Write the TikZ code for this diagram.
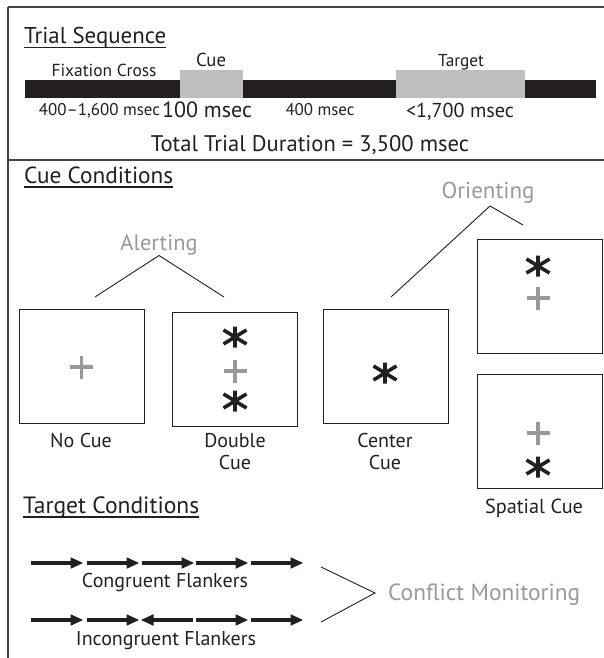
\documentclass[tikz,border=0pt]{standalone}
\usepackage{graphicx}
\usepackage{fontspec}
\setmainfont{PT Sans}
\definecolor{barblack}{HTML}{231F20}
\definecolor{blockgray}{HTML}{BEBEBE}
\definecolor{softgray}{HTML}{999999}
\definecolor{framegray}{HTML}{444444}
\newcommand{\fw}[2]{\resizebox{#1pt}{!}{#2}}
\tikzset{
  txt/.style={inner sep=0pt, anchor=base, text=barblack},
  graytxt/.style={inner sep=0pt, anchor=base, text=softgray},
  caption/.style={inner sep=0pt, anchor=base, text=barblack, font=\fontsize{20}{22}\selectfont},
  uline/.style={draw=barblack, line width=1.2pt},
  frameline/.style={draw=framegray, line width=1.4pt},
  cuebox/.style={draw=barblack, line width=1pt, minimum width=125pt, minimum height=114pt, inner sep=0pt},
  link/.style={draw=barblack, line width=0.9pt},
  astsym/.pic={\draw[barblack, line width=3.6pt] (0,-10.5) -- (0,10.5) (-11.5,-7) -- (11.5,7) (-11.5,7) -- (11.5,-7);},
  plussym/.pic={\draw[softgray, line width=3.5pt] (-11.5,0) -- (11.5,0) (0,-11.5) -- (0,11.5);},
  flank/.pic={\fill[barblack] (0,-2.3) rectangle (40,2.3); \fill[barblack] (39.5,-5.8) -- (52,0) -- (39.5,5.8) -- cycle;}
}
\begin{document}
\begin{tikzpicture}[x=1pt,y=-1pt]
\useasboundingbox (0,0) rectangle (604,658);
\fill[white] (0,0) rectangle (604,658);
% frame
\draw[frameline] (8,7) -- (604,7);
\draw[frameline] (8,7) -- (8,658);
\draw[frameline] (8,160) -- (604,160);

% ---- Trial sequence ----
\node[txt, anchor=base west] (trialseq) at (24,43.3) {\fw{142}{Trial Sequence}};
\draw[uline] ([yshift=-4pt]trialseq.base west) -- ([yshift=-4pt]trialseq.base east);

\fill[barblack] (25,80.5) rectangle (596,98.5);
\fill[blockgray] (180,70.5) rectangle (242.5,98.5);
\fill[blockgray] (396,70.5) rectangle (525,98.5);

\node[txt] (fixlbl) at (104,76.7) {\fw{105}{Fixation Cross}};
\node[txt] (cuelbl) at (211,67) {\fw{30}{Cue}};
\node[txt] (targetlbl) at (461,67) {\fw{46}{Target}};

\node[txt] (dur1) at (99.5,115.5) {\fw{121}{400–1,600 msec}};
\node[txt] (dur2) at (207,117.5) {\fw{90}{100 msec}};
\node[txt] (dur3) at (320,115.5) {\fw{69}{400 msec}};
\node[txt] (dur4) at (460,117.5) {\fw{108}{<1,700 msec}};
\node[txt] (total) at (310,151.7) {\fw{318}{Total Trial Duration = 3,500 msec}};

% ---- Cue conditions ----
\node[txt, anchor=base west] (cuecond) at (24,183) {\fw{149}{Cue Conditions}};
\draw[uline] ([yshift=-4pt]cuecond.base west) -- ([yshift=-4pt]cuecond.base east);

\node[graytxt] (alerting) at (159,250) {\fw{77}{Alerting}};
\node[graytxt] (orienting) at (488,198) {\fw{93}{Orienting}};

\coordinate (alpeak) at (159,255.5);
\coordinate (alleft) at (95,297);
\coordinate (alright) at (224,297);
\draw[link] (alleft) -- (alpeak) -- (alright);

\coordinate (orpeak) at (490,206);
\coordinate (orleft) at (391,297);
\coordinate (orright) at (523,225);
\draw[link] (orleft) -- (orpeak) -- (orright);

\node[cuebox] (nocue) at (81.5,366) {};
\node[cuebox] (double) at (234.5,369) {};
\node[cuebox] (center) at (385.5,366) {};
\node[cuebox] (spattop) at (539.5,296) {};
\node[cuebox] (spatbot) at (539.5,431) {};

\pic at (81.7,367) {plussym};
\pic at (235,337) {astsym};
\pic at (235,371) {plussym};
\pic at (235,401) {astsym};
\pic at (385,373) {astsym};
\pic at (538,266) {astsym};
\pic at (538,298) {plussym};
\pic at (538,433) {plussym};
\pic at (538,467) {astsym};

\node[caption] (nocuelbl) at (81,447) {No Cue};
\node[caption] (doublelblA) at (235,447) {Double};
\node[caption] (doublelblB) at (235,469) {Cue};
\node[caption] (centerlblA) at (385,447) {Center};
\node[caption] (centerlblB) at (385,469) {Cue};
\node[txt] (spatiallbl) at (534,513) {\fw{98}{Spatial Cue}};

% ---- Target conditions ----
\node[txt, anchor=base west] (targcond) at (23,513) {\fw{176}{Target Conditions}};
\draw[uline] ([yshift=-4pt]targcond.base west) -- ([yshift=-4pt]targcond.base east);

\pic at (31,563) {flank};
\pic at (87,563) {flank};
\pic at (142,563) {flank};
\pic at (196,563) {flank};
\pic at (251,563) {flank};
\node[txt] (conglbl) at (165,587) {\fw{166}{Congruent Flankers}};

\pic at (31,620) {flank};
\pic at (87,620) {flank};
\pic[xscale=-1] at (193,620) {flank};
\pic at (196,620) {flank};
\pic at (251,620) {flank};
\node[txt] (incglbl) at (166,645) {\fw{180}{Incongruent Flankers}};

\node[graytxt, anchor=base west] (conflict) at (388,600) {\fw{192}{Conflict Monitoring}};
\coordinate (cftop) at (321,567);
\coordinate (cfapex) at (375,593);
\coordinate (cfbot) at (321,622);
\draw[link] (cftop) -- (cfapex) -- (cfbot);
\end{tikzpicture}
\end{document}
